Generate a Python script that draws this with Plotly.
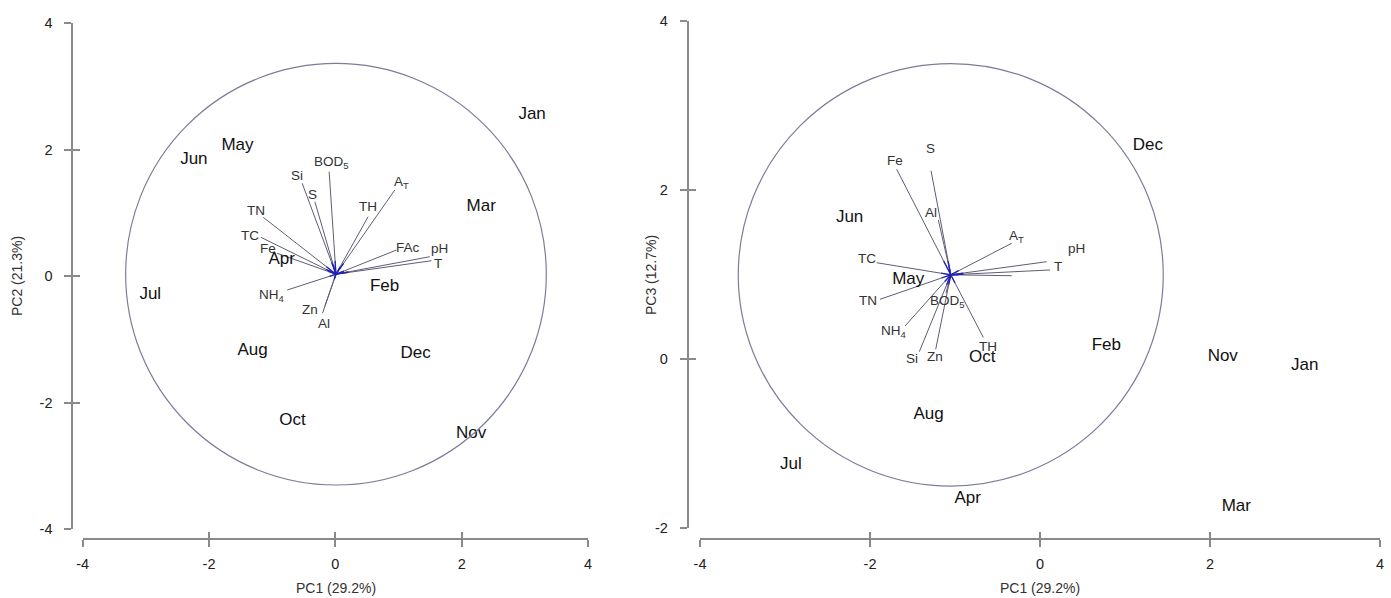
import plotly.graph_objects as go

W, H = 1391, 598

# ---------------- data ----------------
months = ["Jan", "Feb", "Mar", "Apr", "May", "Jun", "Jul", "Aug", "Oct", "Nov", "Dec"]
pc1 = [3.115, 0.78, 2.31, -0.85, -1.55, -2.24, -2.93, -1.31, -0.68, 2.15, 1.27]
pc2 = [2.545, -0.172, 1.092, 0.254, 2.055, 1.834, -0.299, -1.183, -2.289, -2.495, -1.230]
pc3 = [-0.079, 0.157, -1.748, -1.653, 0.938, 1.672, -1.251, -0.659, 0.015, 0.027, 2.524]

# variable vectors, PC1 vs PC2 (end points)
vars12 = ["BOD5", "Si", "S", "TN", "TC", "Fe", "NH4", "Zn", "Al", "TH", "AT", "FAc", "pH", "T"]
v12_x = [-0.098, -0.525, -0.324, -1.142, -1.179, -0.921, -0.763, -0.166, -0.203, 0.519, 0.941, 0.968, 1.495, 1.522]
v12_y = [1.649, 1.466, 1.175, 0.929, 0.613, 0.360, -0.220, -0.472, -0.588, 0.938, 1.360, 0.412, 0.306, 0.243]
origin12 = (0.01, 0.03)
radius12 = 3.33

# variable vectors, PC1 vs PC3 (end points)
vars13 = ["Fe", "S", "Al", "AT", "pH", "T", "FAc", "TC", "TN", "NH4", "Si", "Zn", "TH", "BOD5"]
v13_x = [-1.686, -1.282, -1.196, -0.333, 0.079, 0.118, -0.333, -1.921, -1.882, -1.588, -1.420, -1.227, -0.667, -1.106]
v13_y = [2.249, 2.232, 1.649, 1.373, 1.155, 1.057, 0.989, 1.143, 0.710, 0.394, 0.090, 0.118, 0.260, 0.785]
origin13 = (-1.05, 1.0)
radius13 = 2.5

x_ticks = [-4, -2, 0, 2, 4]
x_ticktext = ["-4", "-2", "0", "2", "4"]
y12_ticks = [-4, -2, 0, 2, 4]
y12_ticktext = ["-4", "-2", "0", "2", "4"]
y13_ticks = [-2, 0, 2, 4]
y13_ticktext = ["-2", "0", "2", "4"]

# ---------------- styles ----------------
label_html = {"BOD5": "BOD<sub>5</sub>", "NH4": "NH<sub>4</sub>", "AT": "A<sub>T</sub>"}
# label offsets in px (dx right, dy down)
off12 = {"BOD5": (2, -9), "Si": (-5, -8), "S": (-2, -7), "TN": (-7, -7), "TC": (-11, -2),
         "Fe": (-9, -5), "NH4": (-16, 5), "Zn": (-15, 4), "Al": (1, 10), "TH": (0, -10),
         "AT": (7, -8), "FAc": (12, -3), "pH": (10, -8), "T": (7, 3)}
off13 = {"Fe": (-2, -9), "S": (-1, -22), "Al": (-7, -7), "AT": (5, -7), "pH": (30, -13),
         "T": (8, -3), "TC": (-10, -4), "TN": (-12, 1), "NH4": (-12, 5), "Si": (-7, 7),
         "Zn": (-1, 7), "TH": (5, 9), "BOD5": (2, 9)}

FONT = "Liberation Sans, Arial, sans-serif"
AXIS_COL = "#8a8a8a"
VEC_COL = "#5d5d78"
BLUE = "#2222b8"
CIRC_COL = "#7c7c9a"


def px_x(p):
    return p / W


def px_y(p):
    return 1 - p / H


fig = go.Figure()


def add_panel(xa, ya, xs, ys, origin, vx, vy, names, offs):
    lx, ly, bx, by = [], [], [], []
    for ex, ey in zip(vx, vy):
        lx += [origin[0], ex, None]
        ly += [origin[1], ey, None]
        bx += [origin[0], origin[0] + 0.13 * (ex - origin[0]), None]
        by += [origin[1], origin[1] + 0.13 * (ey - origin[1]), None]
    fig.add_trace(go.Scatter(x=lx, y=ly, mode="lines", xaxis=xa, yaxis=ya,
                             line=dict(color=VEC_COL, width=1), hoverinfo="skip", showlegend=False))
    fig.add_trace(go.Scatter(x=bx, y=by, mode="lines", xaxis=xa, yaxis=ya,
                             line=dict(color=BLUE, width=1.3), hoverinfo="skip", showlegend=False))
    fig.add_trace(go.Scatter(x=xs, y=ys, mode="text", text=months, xaxis=xa, yaxis=ya,
                             textposition="middle center",
                             textfont=dict(family=FONT, size=17, color="#111111"),
                             hoverinfo="text", showlegend=False))
    for n, ex, ey in zip(names, vx, vy):
        if n not in offs:
            continue
        dx, dy = offs[n]
        fig.add_annotation(x=ex, y=ey, xref=xa, yref=ya,
                           text=label_html.get(n, n), showarrow=False,
                           xshift=dx, yshift=-dy,
                           font=dict(family=FONT, size=13.5, color="#333333"))


add_panel("x", "y", pc1, pc2, origin12, v12_x, v12_y, vars12, off12)
add_panel("x2", "y2", pc1, pc3, origin13, v13_x, v13_y, vars13, off13)

fig.add_shape(type="circle", xref="x", yref="y",
              x0=origin12[0] - radius12, x1=origin12[0] + radius12,
              y0=origin12[1] - radius12, y1=origin12[1] + radius12,
              line=dict(color=CIRC_COL, width=1.2))
fig.add_shape(type="circle", xref="x2", yref="y2",
              x0=origin13[0] - radius13, x1=origin13[0] + radius13,
              y0=origin13[1] - radius13, y1=origin13[1] + radius13,
              line=dict(color=CIRC_COL, width=1.2))

# invisible traces so that the overlay (inside-tick) axes are drawn
for xa, ya in [("x3", "y"), ("x", "y3"), ("x4", "y2"), ("x2", "y4")]:
    fig.add_trace(go.Scatter(x=[0], y=[0], mode="markers", xaxis=xa, yaxis=ya,
                             marker=dict(opacity=0), hoverinfo="skip", showlegend=False))

tickfont = dict(family=FONT, size=14.5, color="#222222")
x_dom_L = [px_x(82.7), px_x(588)]
x_dom_R = [px_x(700), px_x(1380)]
y_dom_L = [px_y(529.3), px_y(22.9)]
y_dom_R = [px_y(528.3), px_y(21.3)]
x_pos = px_y(539.3)
yL_pos = px_x(72.3)
yR_pos = px_x(687.7)

common = dict(showgrid=False, zeroline=False, showline=True, linecolor=AXIS_COL, linewidth=1.8,
              ticks="outside", ticklen=7, tickwidth=1.5, tickcolor=AXIS_COL, tickfont=tickfont,
              anchor="free", fixedrange=True, automargin=False)
inner = dict(showgrid=False, zeroline=False, showline=False, ticks="inside", ticklen=7,
             tickwidth=1.5, tickcolor=AXIS_COL, showticklabels=False, anchor="free",
             fixedrange=True, automargin=False)

fig.update_layout(
    width=W, height=H, margin=dict(l=0, r=0, t=0, b=0, autoexpand=False),
    paper_bgcolor="white", plot_bgcolor="rgba(0,0,0,0)",
    showlegend=False,
    xaxis=dict(domain=x_dom_L, range=[-4, 4], tickvals=x_ticks, ticktext=x_ticktext,
               position=x_pos, ticklabelstandoff=4, **common),
    yaxis=dict(domain=y_dom_L, range=[-4, 4], tickvals=y12_ticks, ticktext=y12_ticktext,
               position=yL_pos, ticklabelstandoff=9, **common),
    xaxis2=dict(domain=x_dom_R, range=[-4, 4], tickvals=x_ticks, ticktext=x_ticktext,
                position=x_pos, ticklabelstandoff=4, **common),
    yaxis2=dict(domain=y_dom_R, range=[-2, 4], tickvals=y13_ticks, ticktext=y13_ticktext,
                position=yR_pos, ticklabelstandoff=9, **common),
    xaxis3=dict(domain=x_dom_L, range=[-4, 4], tickvals=x_ticks, position=x_pos,
                overlaying="x", **inner),
    yaxis3=dict(domain=y_dom_L, range=[-4, 4], tickvals=y12_ticks, position=yL_pos,
                overlaying="y", **inner),
    xaxis4=dict(domain=x_dom_R, range=[-4, 4], tickvals=x_ticks, position=x_pos,
                overlaying="x2", **inner),
    yaxis4=dict(domain=y_dom_R, range=[-2, 4], tickvals=y13_ticks, position=yR_pos,
                overlaying="y2", **inner),
)

title_font = dict(family=FONT, size=14, color="#333333")
for txt, x, y, ang in [("PC1 (29.2%)", 335.5, 588, 0), ("PC1 (29.2%)", 1040, 588, 0),
                       ("PC2 (21.3%)", 17, 276, -90), ("PC3 (12.7%)", 651, 275, -90)]:
    fig.add_annotation(x=px_x(x), y=px_y(y), xref="paper", yref="paper", text=txt,
                       showarrow=False, textangle=ang, font=title_font,
                       xanchor="center", yanchor="middle")

fig.write_html("out.html", config={"displayModeBar": False},
               post_script="document.body.style.margin='0';document.body.style.overflow='hidden';")
